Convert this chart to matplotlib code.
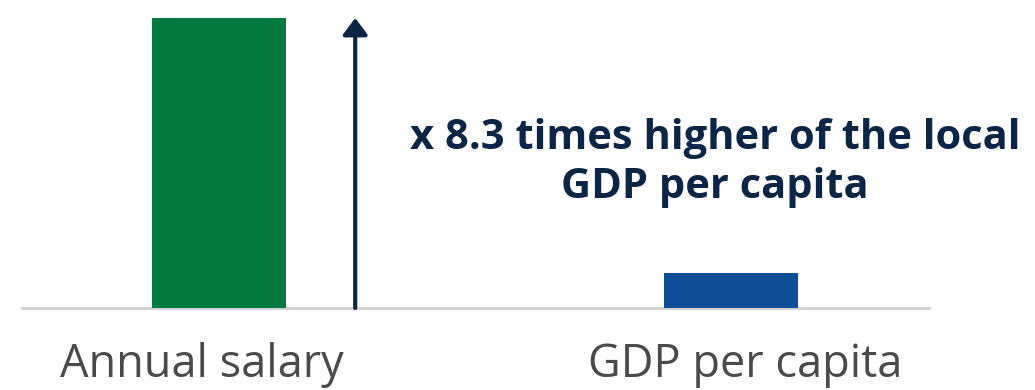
import matplotlib.pyplot as plt
from matplotlib.transforms import blended_transform_factory

# data
categories = ["Annual salary", "GDP per capita"]
values = [8.3, 1.0]
colors = ["#047a40", "#0f4e96"]
note = "x 8.3 times higher of the local\nGDP per capita"

fig = plt.figure(figsize=(10.35, 3.9), dpi=100)
ax = fig.add_axes([22 / 1035, 1 - 308 / 390, 907 / 1035, 290 / 390])

x = range(len(categories))
ax.bar(x, values, width=0.262, color=colors, zorder=2)
ax.set_xlim(-0.385, 1.387)
ax.set_ylim(0, values[0])

# baseline
ax.axhline(0, color="#d0d0d0", lw=2, zorder=1, clip_on=False)

# arrow showing the gap
ax.annotate("", xy=(0.266, values[0]), xytext=(0.266, 0),
            arrowprops=dict(arrowstyle="-|>,head_width=0.75,head_length=1.0",
                            color="#0b2546", lw=3, shrinkA=0, shrinkB=0),
            annotation_clip=False)

fig.text(715 / 1035, 1 - 163 / 390, note, ha="center", va="center",
         fontsize=30, fontweight="bold", color="#0b2546", family="Open Sans",
         linespacing=1.25)

# category labels, slightly off the bar centres as in the original
label_shift = [-0.033, 0.027]
tr = blended_transform_factory(ax.transData, fig.transFigure)
for i, lab in enumerate(categories):
    ax.text(i + label_shift[i], 1 - 365 / 390, lab, transform=tr,
            ha="center", va="center", fontsize=32.5, color="#4a4a4a",
            family="Open Sans")

ax.set_xticks([])
ax.set_yticks([])
for s in ax.spines.values():
    s.set_visible(False)

fig.savefig("out.png", dpi=100)
